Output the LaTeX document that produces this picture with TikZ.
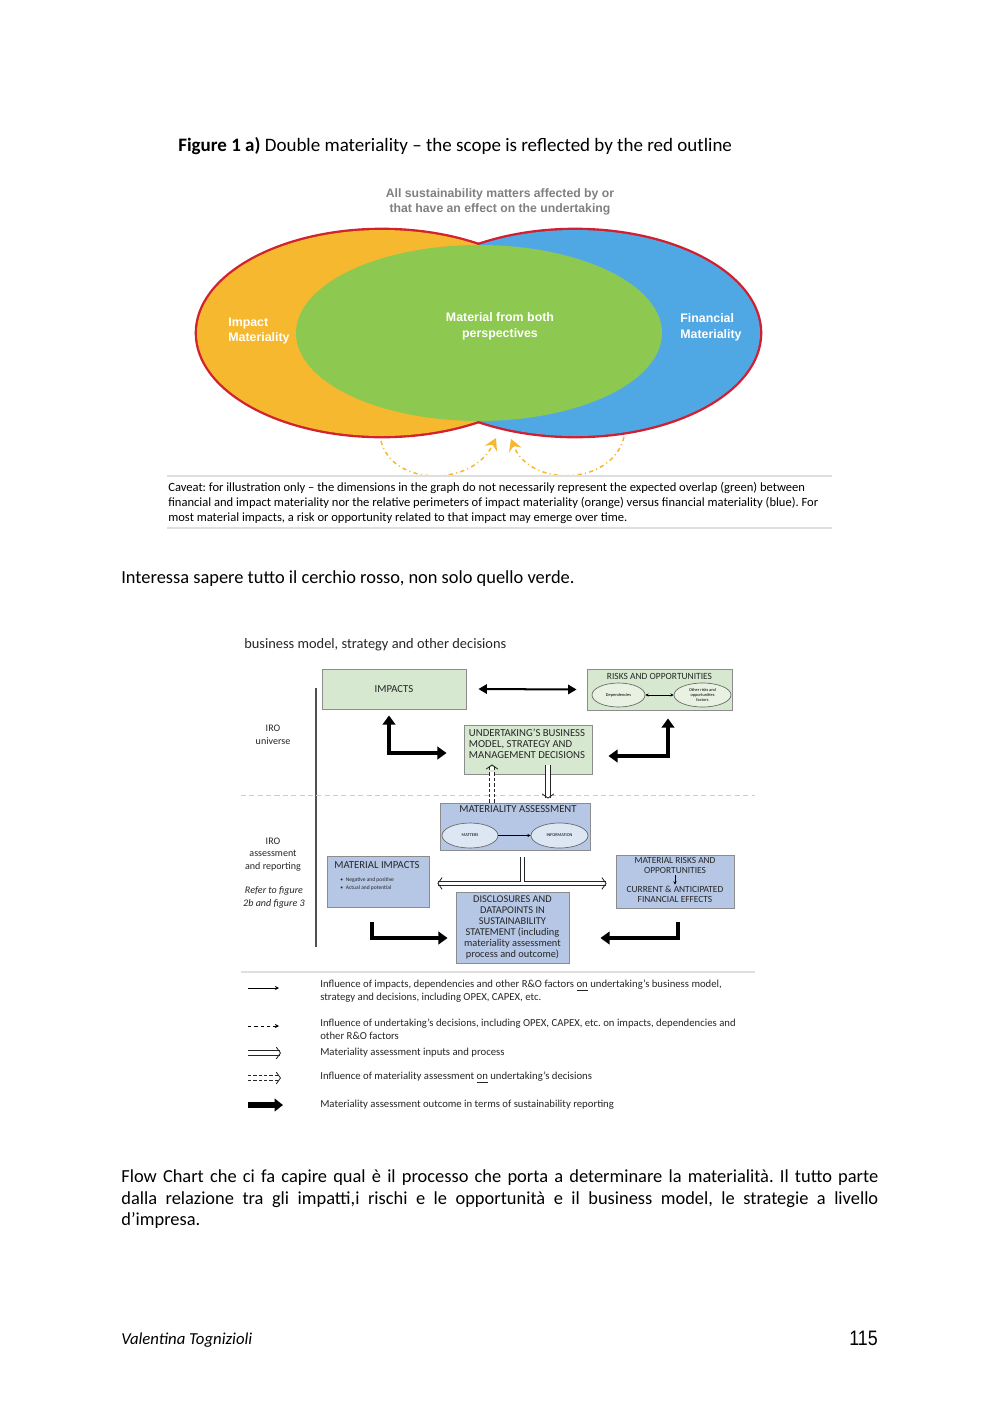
\documentclass[tikz,border=0pt]{standalone}
\usepackage{fontspec}
\setmainfont{Carlito}
\newfontfamily\arialfont{Liberation Sans}
\newfontfamily\pagenumfont[FakeStretch=0.85]{Liberation Sans}
\usetikzlibrary{positioning, arrows.meta, shapes.geometric, calc}
\frenchspacing
\definecolor{ImpOrange}{HTML}{F5B82E}
\definecolor{FinBlue}{HTML}{4FA8E4}
\definecolor{BothGreen}{HTML}{8DC850}
\definecolor{ScopeRed}{HTML}{D3222F}
\definecolor{CapGrey}{HTML}{808080}
\definecolor{BoxGreen}{HTML}{D6E8CF}
\definecolor{BoxBlue}{HTML}{B5C7E5}
\definecolor{BoxLine}{HTML}{8C8C8C}
\definecolor{EllGreen}{HTML}{E8F1E2}
\definecolor{EllBlue}{HTML}{DDE6F3}
\definecolor{TextDark}{HTML}{262626}
\def\pxu{0.021cm}
\tikzset{
    greenbox/.style 2 args={rectangle, draw=BoxLine, fill=BoxGreen, line width=0.5pt, minimum width=#1*\pxu, minimum height=#2*\pxu, inner sep=0pt},
    bluebox/.style 2 args={rectangle, draw=BoxLine, fill=BoxBlue, line width=0.5pt, minimum width=#1*\pxu, minimum height=#2*\pxu, inner sep=0pt},
    ovalg/.style 2 args={ellipse, draw=TextDark!70, fill=EllGreen, line width=0.4pt, minimum width=#1*\pxu, minimum height=#2*\pxu, inner sep=0pt, align=center, font=\fontsize{2.6}{3}\selectfont},
    ovalb/.style 2 args={ellipse, draw=TextDark!70, fill=EllBlue, line width=0.4pt, minimum width=#1*\pxu, minimum height=#2*\pxu, inner sep=0pt, align=center, font=\fontsize{2.6}{3}\selectfont},
    boxtxt/.style={font=\fontsize{6.4}{6.6}\selectfont, text=TextDark, align=center, inner sep=0pt},
    sidelbl/.style={font=\fontsize{6}{7.6}\selectfont, text=TextDark, align=center, inner sep=0pt},
    legtxt/.style={anchor=west, font=\fontsize{6.4}{7.7}\selectfont, text=TextDark, align=left, inner sep=0pt},
    bodytxt/.style={font=\fontsize{11}{13.1}\selectfont, inner sep=0pt},
    ellsym/.style={font=\arialfont\bfseries\fontsize{7.4}{9.5}\selectfont, text=white, inner sep=0pt},
    heavyarr/.style={line width=2.4pt, {Triangle[length=5.5pt, width=7.5pt]}-{Triangle[length=5.5pt, width=7.5pt]}},
    heavyone/.style={line width=2.4pt, -{Triangle[length=5.5pt, width=7.5pt]}},
    midarr/.style={line width=1.2pt, {Triangle[length=5pt, width=5.5pt]}-{Triangle[length=5pt, width=5.5pt]}},
    thinarr/.style={line width=0.4pt, -{Stealth[length=2pt, width=2pt]}},
    hollowarr/.style={draw=TextDark, line width=0.5pt, double=white, double distance=2.2pt, -{Straight Barb[length=2.5pt, width=7pt]}},
    hollowdash/.style={hollowarr, dash pattern=on 2pt off 1.2pt},
    yellowarc/.style={ImpOrange, line width=0.9pt, dash pattern=on 2.5pt off 2pt on 0.6pt off 2pt, -{Stealth[length=7pt, width=8pt, inset=2.5pt, fill=ImpOrange]}}
}
\begin{document}
\begin{tikzpicture}[x=0.021cm, y=-0.021cm]
    \useasboundingbox[fill=white] (0,0) rectangle (1000,1413);

    % --- FIGURE 1 A ---
    \node[anchor=base west, font=\fontsize{11.35}{14}\selectfont, inner sep=0pt] (figtitle) at (178,151) {\textbf{Figure 1 a)} Double materiality -- the scope is reflected by the red outline};
    \node[font=\arialfont\bfseries\fontsize{7.3}{8.9}\selectfont, text=CapGrey, align=center, inner sep=0pt] (scopetxt) at (500,201.5) {All sustainability matters affected by or\\that have an effect on the undertaking};

    % outlines first, fills on top
    \draw[ScopeRed, line width=2.8pt] (382,333) ellipse [x radius=185, y radius=103];
    \draw[ScopeRed!90!purple, line width=2.8pt] (575,333) ellipse [x radius=185, y radius=103];
    \fill[ImpOrange] (382,333) ellipse [x radius=185, y radius=103];
    \fill[FinBlue] (575,333) ellipse [x radius=185, y radius=103];
    \fill[BothGreen] (479,333) ellipse [x radius=183, y radius=88];

    \node[ellsym, anchor=west, align=left] (impactlbl) at (228,331) {Impact\\Materiality};
    \node[ellsym, align=center] (bothlbl) at (500,326) {Material from both\\perspectives};
    \node[ellsym, anchor=west, align=left] (finlbl) at (680,327) {Financial\\Materiality};

    \coordinate (arcLstart) at (381,441);
    \coordinate (arcLend) at (496,438);
    \coordinate (arcRstart) at (624,437);
    \coordinate (arcRend) at (511,439);
    \draw[yellowarc] (arcLstart) .. controls (392,486) and (472,488) .. (arcLend);
    \draw[yellowarc] (arcRstart) .. controls (612,486) and (530,488) .. (arcRend);

    % --- CAVEAT ---
    \draw[gray!25, line width=0.8pt] (167,476) -- (832,476);
    \draw[gray!25, line width=0.8pt] (167,528) -- (832,528);
    \node[anchor=base west, font=\fontsize{7.5}{9}\selectfont, inner sep=0pt] (cap1) at (168,491) {Caveat: for illustration only -- the dimensions in the graph do not necessarily represent the expected overlap (green) between};
    \node[anchor=base west, font=\fontsize{7.5}{9}\selectfont, inner sep=0pt] (cap2) at (168,506) {financial and impact materiality nor the relative perimeters of impact materiality (orange) versus financial materiality (blue). For};
    \node[anchor=base west, font=\fontsize{7.5}{9}\selectfont, inner sep=0pt] (cap3) at (168,521) {most material impacts, a risk or opportunity related to that impact may emerge over time.};

    \node[bodytxt, anchor=base west] (remark) at (121,583.5) {Interessa sapere tutto il cerchio rosso, non solo quello verde.};

    % --- FLOW CHART ---
    \node[anchor=base west, font=\fontsize{8.6}{10}\selectfont, text=TextDark, inner sep=0pt] (fctitle) at (244,648.5) {business model, strategy and other decisions};

    \node[greenbox={144}{40}, boxtxt] (impacts) at (394,689) {IMPACTS};
    \node[greenbox={145}{41}] (risks) at (659.5,689.5) {};
    \node[boxtxt, font=\fontsize{5.65}{6}\selectfont] (riskttl) at (659.5,676) {RISKS AND OPPORTUNITIES};
    \node[ovalg={53}{24}] (depend) at (618.5,695) {Dependencies};
    \node[ovalg={57}{24}] (otherro) at (702.5,695) {Other risks and\\opportunities\\factors};
    \draw[thinarr, {Stealth[length=2pt, width=2pt]}-{Stealth[length=2pt, width=2pt]}] (depend) -- (otherro);

    \node[greenbox={128}{49}] (undertaking) at (528,749.5) {};
    \node[boxtxt, align=left] (undtxt) at (527,744) {UNDERTAKING'S BUSINESS\\MODEL, STRATEGY AND\\MANAGEMENT DECISIONS};

    \draw[midarr] ([xshift=12*\pxu]impacts.east) -- ([xshift=-10*\pxu]risks.west);

    \coordinate (impup) at ($(impacts.south)+(-5,6)$);
    \coordinate (undleft) at ($(undertaking.west)+(-17,3.5)$);
    \coordinate (riskup) at ($(risks.south)+(8.5,8)$);
    \coordinate (undright) at ($(undertaking.east)+(16,6.5)$);
    \draw[heavyarr] (impup) |- (undleft);
    \draw[heavyarr] (riskup) |- (undright);

    \node[sidelbl] (irouni) at (273,734.5) {IRO\\universe};
    \node[sidelbl] (iroass) at (273,854.5) {IRO\\assessment\\and reporting};
    \node[sidelbl, font=\fontsize{6}{7.6}\selectfont\itshape] (refer) at (274,897.5) {Refer to figure\\2b and figure 3};

    \draw[TextDark!80, line width=0.8pt] (316,688) -- (316,947);
    \draw[gray!40, line width=0.6pt, dash pattern=on 3pt off 2pt] (241,795) -- (755,795);

    \node[bluebox={150}{47}] (matass) at (515,826.5) {};
    \node[boxtxt] (matassttl) at (518,809.5) {MATERIALITY ASSESSMENT};
    \node[ovalb={56}{25}] (matters) at (470,835.5) {MATTERS};
    \node[ovalb={57}{25}] (information) at (559.5,835.5) {INFORMATION};
    \draw[thinarr] (matters) -- (information);

    \draw[hollowarr] ($(undertaking.south)+(20,-9)$) -- ($(matass.north)+(33,-4)$);
    \draw[hollowdash] ($(matass.north)+(-23,0)$) -- ($(undertaking.south)+(-36,-10)$);

    \node[bluebox={102}{51}] (matimp) at (378,881.5) {};
    \node[boxtxt] (matimpttl) at (377,865) {MATERIAL IMPACTS};
    \node[boxtxt, font=\fontsize{3.3}{4.8}\selectfont, align=left, anchor=west] (matimpbul) at (340,884) {\textbullet\enspace Negative and positive\\\textbullet\enspace Actual and potential};

    \node[bluebox={118}{53}] (matrisk) at (675,881.5) {};
    \node[boxtxt, font=\fontsize{5.6}{5.6}\selectfont] (mrtop) at (675,865.5) {MATERIAL RISKS AND\\OPPORTUNITIES};
    \node[boxtxt, font=\fontsize{5.6}{5.6}\selectfont] (mrbot) at (675,894.5) {CURRENT \& ANTICIPATED\\FINANCIAL EFFECTS};
    \draw[thinarr, shorten <=1pt, shorten >=1pt] (mrtop) -- (mrbot);

    \node[bluebox={113}{71}, boxtxt, font=\fontsize{6.2}{6.5}\selectfont] (disclose) at (512.5,927.5) {DISCLOSURES AND\\DATAPOINTS IN\\SUSTAINABILITY\\STATEMENT (including\\materiality assessment\\process and outcome)};

    % split of the assessment result
    \coordinate (tsplit) at ($(matass.south)+(7.5,33)$);
    \coordinate (ttop) at ($(matass.south)+(7.5,7)$);
    \draw[hollowarr] (tsplit) -- ($(matimp.east |- tsplit)+(8,0)$);
    \draw[hollowarr] (tsplit) -- ($(matrisk.west |- tsplit)+(-9,0)$);
    \draw[draw=TextDark, line width=0.5pt, double=white, double distance=2.2pt] (ttop) -- ($(tsplit)+(0,-1.85)$);

    \coordinate (impdown) at ($(matimp.south)+(-6,15)$);
    \coordinate (discleft) at ($(disclose.west)+(-8,10.5)$);
    \coordinate (riskdown) at ($(matrisk.south)+(3,14)$);
    \coordinate (discright) at ($(disclose.east)+(31,10.5)$);
    \draw[heavyone] (impdown) |- (discleft);
    \draw[heavyone] (riskdown) |- (discright);

    \draw[gray!25, line width=0.8pt] (241,972) -- (755,972);

    % --- LEGEND ---
    \coordinate (lg1a) at (248,988);  \coordinate (lg1b) at (279,988);
    \coordinate (lg2a) at (248,1026); \coordinate (lg2b) at (279,1026);
    \coordinate (lg3a) at (248,1053); \coordinate (lg3b) at (281,1053);
    \coordinate (lg4a) at (248,1078); \coordinate (lg4b) at (281,1078);
    \coordinate (lg5a) at (248,1105); \coordinate (lg5b) at (283,1105);
    \draw[line width=0.6pt, -{Stealth[length=2.5pt, width=2.5pt]}] (lg1a) -- (lg1b);
    \draw[line width=0.6pt, dash pattern=on 2pt off 1.8pt, -{Stealth[length=2.5pt, width=2.5pt]}] (lg2a) -- (lg2b);
    \draw[hollowarr] (lg3a) -- (lg3b);
    \draw[hollowdash] (lg4a) -- (lg4b);
    \draw[line width=3.6pt, -{Triangle[length=5pt, width=7.5pt]}] (lg5a) -- (lg5b);

    \node[legtxt] (leg1) at (320,991.5) {Influence of impacts, dependencies and other R\&O factors \underline{on} undertaking's business model,\\strategy and decisions, including OPEX, CAPEX, etc.};
    \node[legtxt] (leg2) at (320,1029) {Influence of undertaking's decisions, including OPEX, CAPEX, etc. on impacts, dependencies and\\other R\&O factors};
    \node[legtxt] (leg3) at (320,1053) {Materiality assessment inputs and process};
    \node[legtxt] (leg4) at (320,1077.5) {Influence of materiality assessment \underline{on} undertaking's decisions};
    \node[legtxt] (leg5) at (320,1104.5) {Materiality assessment outcome in terms of sustainability reporting};

    % --- BODY AND FOOTER ---
    \node[bodytxt, anchor=north west, text width=757*\pxu, align=justify] (para) at (121,1169) {Flow Chart che ci fa capire qual è il processo che porta a determinare la materialità. Il tutto parte\linebreak dalla relazione tra gli impatti,i rischi e le opportunità e il business model, le strategie a livello\linebreak d'impresa.};
    \node[anchor=base west, font=\fontsize{10}{12}\selectfont\itshape, inner sep=0pt] (author) at (121,1344) {Valentina Tognizioli};
    \node[anchor=base east, font=\pagenumfont\fontsize{12.5}{14}\selectfont, inner sep=0pt] (pagenum) at (878,1345) {115};
\end{tikzpicture}
\end{document}
